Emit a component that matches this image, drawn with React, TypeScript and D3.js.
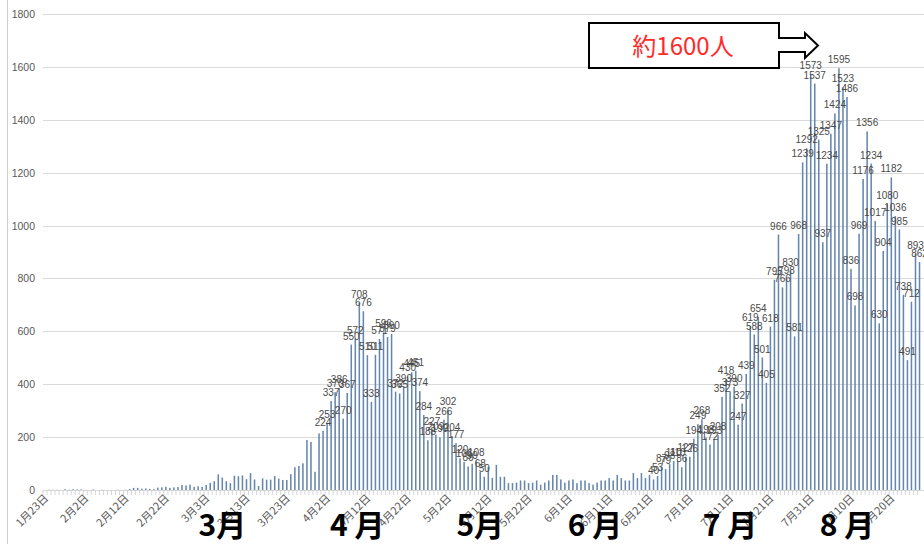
import React from "react";
import * as d3 from "d3";

// Daily values from 1月23日 onward (one per day)
const janValues = [0, 1, 1, 1, 0, 3, 1, 3, 2];
const febValues = [2, 0, 0, 2, 0, 1, 0, 0, 0, 1, 0, 1, 4, 8, 8, 5, 6, 4, 3, 9, 10, 12, 8, 10, 11, 19, 17, 20, 12];
const marValues = [14, 12, 19, 27, 33, 59, 47, 33, 26, 54, 52, 55, 41, 64, 40, 15, 44, 39, 39, 53, 43, 38, 38, 60, 86, 91, 101, 189, 182, 69, 214];
const aprValues = [224, 253, 337, 370, 386, 270, 367, 550, 572, 708, 676, 510, 333, 511, 571, 596, 579, 590, 372, 365, 390, 430, 445, 451, 374, 284, 188, 227, 209, 199];
const mayValues = [266, 302, 204, 177, 120, 106, 89, 99, 108, 68, 50, 88, 46, 95, 50, 50, 26, 26, 28, 36, 36, 26, 28, 36, 20, 28, 36, 57, 57, 40, 28];
const junValues = [36, 40, 26, 36, 36, 26, 20, 28, 36, 36, 45, 36, 57, 45, 36, 36, 64, 45, 64, 45, 57, 40, 53, 87, 79, 98, 110, 110, 86, 127];
const julValues = [126, 194, 249, 268, 198, 172, 193, 208, 352, 418, 373, 390, 247, 327, 439, 619, 588, 654, 501, 405, 618, 795, 966, 766, 798, 830, 581, 968, 1239, 1292, 1573];
const augValues = [1537, 1325, 937, 1234, 1347, 1424, 1595, 1523, 1486, 836, 698, 969, 1176, 1356, 1234, 1017, 630, 904, 1080, 1182, 1036, 985, 738, 491, 712, 893, 862];

const tickLabels = ["1月23日", "2月2日", "2月12日", "2月22日", "3月3日", "3月13日", "3月23日", "4月2日", "4月12日", "4月22日", "5月2日", "5月12日", "5月22日", "6月1日", "6月11日", "6月21日", "7月1日", "7月11日", "7月21日", "7月31日", "8月10日", "8月20日"];
const yTicks = [0, 200, 400, 600, 800, 1000, 1200, 1400, 1600, 1800];
// labelled date ranges (index of first / last labelled day)
const labelRanges = [[69, 109], [151, 217]];
const monthLabels = [
  { text: "3月", day: 44 },
  { text: "4 月", day: 77.5 },
  { text: "5月", day: 108 },
  { text: "6 月", day: 136.5 },
  { text: "7 月", day: 170 },
  { text: "8 月", day: 199 },
];
const calloutText = "約1600人";

const values = [...janValues, ...febValues, ...marValues, ...aprValues, ...mayValues, ...junValues, ...julValues, ...augValues];

export default function App() {
  const W = 924, H = 544;
  const left = 43, right = 921.5, top = 14, bottom = 490;
  const idx = values.map((_, i) => i);
  const x = d3.scaleBand<number>().domain(idx).range([left, right]).paddingInner(0.62).paddingOuter(0.3);
  const y = d3.scaleLinear().domain([0, 1800]).range([bottom, top]);
  const step = x.step();
  const x0 = x(0) as number;
  const cx = (i: number) => x0 + i * step + x.bandwidth() / 2;
  const isLabelled = (i: number) => labelRanges.some(([a, b]) => i >= a && i <= b);
  const numFont = "'Liberation Sans', Arial, sans-serif";
  const jpFont = "'Noto Sans CJK JP', sans-serif";

  return (
    <svg width={W} height={H} style={{ position: "absolute", left: 0, top: 0, background: "#fff" }}>
      <rect x={0} y={0} width={W} height={H} fill="#fff" />
      <line x1={7.5} x2={7.5} y1={0} y2={H} stroke="#cfcfcf" strokeWidth={1} />
      {/* gridlines */}
      {yTicks.map((t) => (
        <g key={t}>
          <line x1={left} x2={W} y1={Math.round(y(t)) + 0.5} y2={Math.round(y(t)) + 0.5} stroke="#d9d9d9" strokeWidth={1} />
          <text x={35} y={y(t) + 4} textAnchor="end" fontSize={10.5} fill="#595959" fontFamily={numFont}>{t}</text>
        </g>
      ))}
      {/* category tick marks */}
      {idx.map((i) => (
        <line key={"tk" + i} x1={(x(i) as number) - (step - x.bandwidth()) / 2} x2={(x(i) as number) - (step - x.bandwidth()) / 2} y1={bottom} y2={bottom + 5} stroke="#cccccc" strokeWidth={0.8} />
      ))}
      {/* bars */}
      {values.map((v, i) => (
        <rect key={"b" + i} x={x(i)} y={y(v)} width={x.bandwidth()} height={bottom - y(v)} fill="#6586ad" />
      ))}
      {/* data labels */}
      {values.map((v, i) =>
        isLabelled(i) ? (
          <text key={"l" + i} x={cx(i)} y={y(v) - 5} textAnchor="middle" fontSize={10} fill="#4a4a4a" fontFamily={numFont}>{v}</text>
        ) : null
      )}
      {/* x tick labels */}
      {tickLabels.map((lab, k) => {
        const i = k * 10;
        return (
          <text key={"x" + k} transform={`translate(${cx(i) + 4},${bottom + 9}) rotate(-45)`} textAnchor="end" fontSize={11} fill="#595959" fontFamily={jpFont}>{lab}</text>
        );
      })}
      {/* month labels */}
      {monthLabels.map((m) => (
        <text key={m.text} x={cx(m.day)} y={536} textAnchor="middle" fontSize={30} fontWeight={700} fill="#000" fontFamily={jpFont} style={{ whiteSpace: "pre" }}>{m.text}</text>
      ))}
      {/* callout */}
      <path d="M589,23 H779 V38 H805 V33 L818,45.5 L805,58 V52 H779 V68 H589 Z" fill="#fff" stroke="#000" strokeWidth={2} />
      <text x={683} y={55} textAnchor="middle" fontSize={24} fill="#ff2a2a" fontFamily={jpFont}>{calloutText}</text>
    </svg>
  );
}
